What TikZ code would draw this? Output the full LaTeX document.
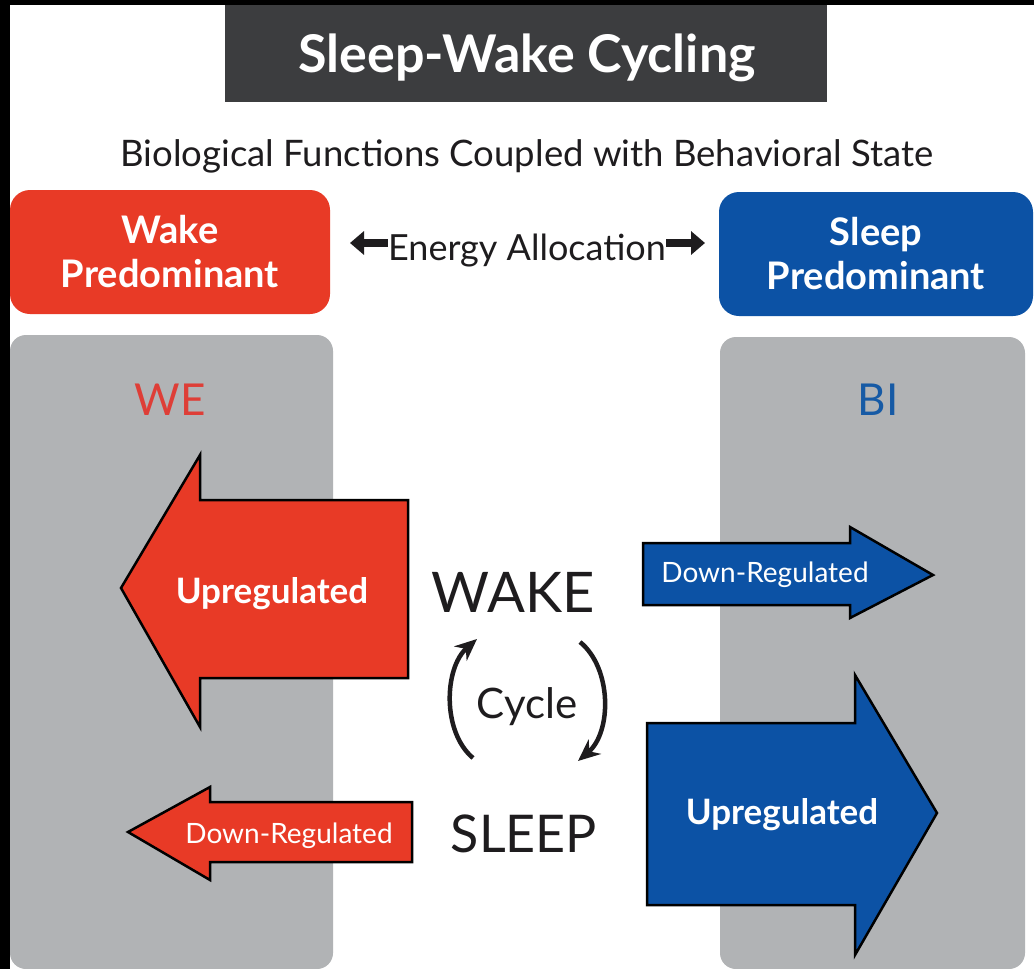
\documentclass[tikz,border=0pt]{standalone}
\usepackage{fontspec}
\setmainfont{Lato}
\usepackage{tikz}
\usetikzlibrary{arrows.meta, positioning, calc}
\usepackage{xcolor}
\definecolor{wakered}{RGB}{232,58,38}
\definecolor{sleepblue}{RGB}{12,82,165}
\definecolor{panelgray}{RGB}{177,179,181}
\definecolor{titlegray}{RGB}{60,61,63}
\definecolor{ink}{RGB}{30,28,30}
\definecolor{wetext}{RGB}{222,62,55}
\definecolor{bitext}{RGB}{22,90,165}

\begin{document}
\begin{tikzpicture}[x=1pt, y=-1pt,
  titlebox/.style={fill=titlegray, text=white, minimum width=602pt, minimum height=97pt, font=\bfseries\fontsize{52}{60}\selectfont},
  statebox/.style={rounded corners=20pt, minimum height=124pt, align=center, text=white, inner sep=0pt, font=\bfseries\fontsize{38}{44}\selectfont},
  panel/.style={fill=panelgray, rounded corners=16pt},
  blockarrow/.style={draw=black, line width=2.5pt, line join=miter},
  lbl/.style={anchor=base, inner sep=0pt},
  heavyarrow/.style={line width=8pt, -{Triangle[length=14pt, width=23pt]}},
  cyclearrow/.style={line width=4.5pt, -{Stealth[length=22pt, width=19pt]}}]
  % frame and panels
  \fill[black] (0,0) rectangle (1034,969);
  \fill[white] (10,5) rectangle (1034,969);
  \fill[panel] (10,335) rectangle (333,969);
  \fill[panel] (720,337) rectangle (1025,969);
  % heading
  \fill[titlegray] (225,5) rectangle (827,102);
  \node[lbl, text=white, font=\bfseries\fontsize{52}{60}\selectfont] (title) at (527,72) {Sleep-Wake Cycling};
  \node[lbl, text=ink, font=\fontsize{36.5}{42}\selectfont] (subtitle) at (527,166) {Biological Functions Coupled with Behavioral State};
  % state boxes
  \node[statebox, fill=wakered, minimum width=320pt] (wake) at (170,252) {Wake\\Predominant};
  \node[statebox, fill=sleepblue, minimum width=314pt] (sleep) at (876,254) {Sleep\\Predominant};
  \node[lbl, text=ink, font=\fontsize{36}{42}\selectfont] (energy) at (527,260) {Energy Allocation};
  \coordinate (energyW) at (350,243);
  \coordinate (energyE) at (705,243);
  \draw[heavyarrow, ink] (energy.west |- energyW) -- (energyW);
  \draw[heavyarrow, ink] (energy.east |- energyE) -- (energyE);
  % panel titles
  \node[lbl, text=wetext, font=\fontsize{44}{50}\selectfont] (we) at (170,415) {WE};
  \node[lbl, text=bitext, font=\fontsize{44}{50}\selectfont] (bi) at (878,415) {BI};
  % WE arrows
  \draw[blockarrow, fill=wakered] (408,500) -- (200,500) -- (200,455) -- (121,588) -- (200,727) -- (200,678) -- (408,678) -- cycle;
  \draw[blockarrow, fill=wakered] (412,802) -- (210,802) -- (210,787) -- (128,832) -- (210,880) -- (210,862) -- (412,862) -- cycle;
  \node[lbl, text=white, font=\bfseries\fontsize{35}{40}\selectfont] (weup) at (272,603) {Upregulated};
  \node[lbl, text=white, font=\fontsize{28}{34}\selectfont] (wedown) at (289,843) {Down-Regulated};
  % BI arrows
  \draw[blockarrow, fill=sleepblue] (643,543) -- (850,543) -- (850,527) -- (933,575) -- (850,618) -- (850,605) -- (643,605) -- cycle;
  \draw[blockarrow, fill=sleepblue] (647,723) -- (855,723) -- (855,675) -- (937,813) -- (855,955) -- (855,905) -- (647,905) -- cycle;
  \node[lbl, text=white, font=\fontsize{28}{34}\selectfont] (bidown) at (765,582) {Down-Regulated};
  \node[lbl, text=white, font=\bfseries\fontsize{35}{40}\selectfont] (biup) at (782,824) {Upregulated};
  % cycle
  \node[lbl, text=ink, font=\fontsize{56}{64}\selectfont] (wakeword) at (513,612) {WAKE};
  \node[lbl, text=ink, font=\fontsize{42}{48}\selectfont] (cycle) at (527,718) {Cycle};
  \node[lbl, text=ink, font=\fontsize{52}{60}\selectfont] (sleepword) at (524,852) {SLEEP};
  \coordinate (upstart) at (473,758);
  \coordinate (upend) at (477,639);
  \coordinate (downstart) at (580,642);
  \coordinate (downend) at (578,761);
  \draw[cyclearrow, ink] (upstart) .. controls (442,732) and (444,668) .. (upend);
  \draw[cyclearrow, ink] (downstart) .. controls (612,668) and (612,732) .. (downend);
\end{tikzpicture}
\end{document}
